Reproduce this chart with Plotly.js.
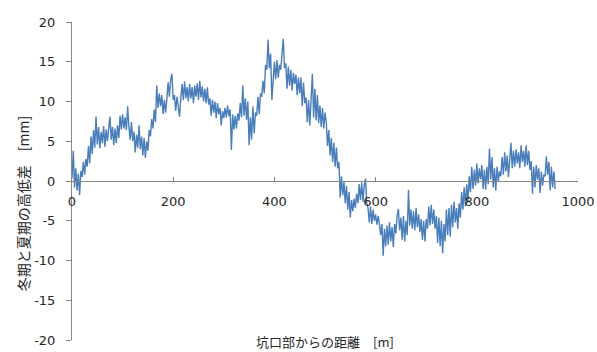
<!DOCTYPE html>
<html>
<head>
<meta charset="utf-8">
<script src="https://cdn.plot.ly/plotly-3.0.1.min.js"></script>
<style>
  html, body { margin: 0; padding: 0; background: #fff; }
  #chart { width: 597px; height: 352px; }
</style>
</head>
<body>
<div id="chart"></div>
<script>
// Survey stations: one reading every 2.5 m from the tunnel portal
const stationStart = 0;   // [m]
const stationStep = 2.5;  // [m]

// Winter minus summer elevation difference at each station [mm]
const heightDiff = [
  0.3, 3.8, -0.8, 1.6, -1.2, 0.9, -1.8, 1.3, 0.5, 2.4,
  0.8, 2.8, 1.8, 4.4, 2.2, 5.6, 3.4, 6.4, 4.2, 8.1,
  4.6, 6.8, 4.1, 6.2, 4.8, 6.9, 4.3, 6.5, 5.0, 7.2,
  8.1, 5.2, 6.8, 4.5, 6.6, 4.8, 7.0, 5.4, 8.2, 6.5,
  8.4, 6.6, 8.0, 6.4, 9.4, 6.8, 5.2, 7.4, 5.0, 6.2,
  3.6, 5.8, 4.2, 7.0, 4.0, 5.6, 3.2, 5.4, 2.9, 5.0,
  3.8, 6.4, 5.6, 7.8, 6.6, 9.0, 7.4, 12.0, 9.2, 11.0,
  9.4, 10.8, 8.4, 10.2, 8.6, 10.4, 12.4, 10.6, 12.8, 13.5,
  10.2, 10.8, 8.8, 10.6, 9.0, 8.1, 10.4, 12.2, 10.2, 12.5,
  10.4, 11.8, 10.0, 12.2, 10.4, 11.8, 9.8, 12.0, 10.6, 12.3,
  10.2, 12.6, 10.5, 11.9, 10.0, 11.6, 9.8, 11.8, 9.6, 10.4,
  8.2, 10.2, 8.6, 10.0, 7.9, 9.8, 8.4, 9.2, 7.0, 8.8,
  7.9, 9.2, 8.0, 9.5, 8.2, 9.0, 3.9, 8.4, 6.5, 8.2,
  6.6, 8.5, 7.6, 9.8, 8.0, 12.0, 8.2, 10.4, 7.7, 10.0,
  4.5, 8.0, 5.2, 9.4, 6.0, 8.6, 8.2, 10.6, 8.4, 11.0,
  10.6, 12.6, 11.0, 14.6, 14.0, 17.8, 14.2, 16.0, 10.2, 13.2,
  15.0, 12.8, 15.2, 13.0, 14.6, 14.0, 16.4, 17.9, 14.2, 14.8,
  11.6, 14.4, 12.0, 14.0, 11.4, 13.6, 12.2, 13.4, 10.8, 13.0,
  11.0, 13.0, 9.4, 12.4, 9.8, 10.5, 7.4, 10.2, 7.0, 9.6,
  13.5, 8.0, 11.6, 7.6, 10.8, 7.3, 9.5, 6.8, 9.2, 6.6,
  8.6, 7.4, 4.4, 6.4, 3.2, 5.4, 2.4, 4.8, 1.8, 4.2,
  1.6, 2.4, -2.1, 0.6, -1.8, -0.1, -2.8, -0.6, -3.6, -1.4,
  -4.6, -2.4, -3.8, -2.2, -3.4, -1.6, -2.8, -0.4, -2.4, -0.2,
  -2.6, -0.6, 0.3, -2.8, -3.4, -5.2, -3.2, -5.4, -3.6, -5.0,
  -4.2, -5.5, -4.4, -5.4, -6.8, -5.4, -9.4, -6.0, -8.2, -5.6,
  -8.0, -5.2, -7.6, -5.8, -8.3, -5.4, -6.6, -4.4, -3.5, -6.2,
  -4.6, -7.4, -4.4, -7.6, -5.0, -6.8, -1.1, -5.6, -3.6, -6.0,
  -3.8, -6.2, -3.4, -5.8, -4.2, -6.4, -4.8, -7.4, -5.0, -7.6,
  -4.8, -6.0, -3.2, -5.6, -3.0, -5.4, -3.6, -6.0, -4.4, -7.8,
  -4.6, -8.2, -5.0, -9.1, -5.4, -7.6, -3.6, -6.8, -3.4, -7.0,
  -3.0, -5.8, -2.6, -5.2, -3.4, -6.0, -2.8, -4.6, -1.4, -3.6,
  -0.8, -3.2, -0.4, -2.6, 0.6, -1.4, 1.8, -1.0, 1.4, -0.6,
  2.2, -0.3, 1.6, 0.2, 2.0, -1.0, 1.4, -1.1, 1.8, -0.4,
  4.1, 0.2, 3.0, -0.8, 1.6, -1.2, 1.8, 0.0, 1.2, 0.6,
  3.0, 0.8, 3.6, 1.2, 3.2, 0.5, 2.8, 4.8, 1.6, 3.8,
  1.8, 4.0, 2.2, 3.6, 1.6, 4.5, 2.4, 3.8, 1.8, 4.5,
  2.0, 3.8, 1.4, 2.5, -1.6, 1.8, -0.8, 2.0, 0.2, 1.6,
  -1.5, 1.2, -0.6, 0.8, 0.6, 3.1, 0.8, 2.4, -1.2, 1.8,
  -0.8, 1.2, -1.0
];

// Axis ticks (labels use a plain hyphen for negatives)
const yTickVals = [-20, -15, -10, -5, 0, 5, 10, 15, 20];
const yTickText = ['-20', '-15', '-10', '-5', '0', '5', '10', '15', '20'];
const xTickVals = [0, 200, 400, 600, 800, 1000];
const xTickText = ['0', '200', '400', '600', '800', '1000'];

const xTitle = '坑口部からの距離　[m]';
const yTitle = '冬期と夏期の高低差　[mm]';

const axisGrey = '#868686';
const textColor = '#262626';
const numFont = 'DejaVu Sans, Verdana, sans-serif';
const jpFont = 'Noto Sans CJK JP, sans-serif';

const trace = {
  type: 'scatter',
  mode: 'lines',
  x0: stationStart,
  dx: stationStep,
  y: heightDiff,
  line: { color: '#4a7ebb', width: 1.4 },
  hoverinfo: 'skip'
};

const layout = {
  width: 597,
  height: 352,
  margin: { l: 72, r: 19, t: 22, b: 12 },
  paper_bgcolor: '#ffffff',
  plot_bgcolor: '#ffffff',
  showlegend: false,
  font: { family: numFont, size: 13, color: textColor },
  xaxis: {
    range: [0, 1000],
    tickmode: 'array',
    tickvals: xTickVals,
    ticktext: xTickText,
    anchor: 'free',
    position: 0.5,
    showgrid: false,
    zeroline: false,
    showline: true,
    linecolor: axisGrey,
    linewidth: 1,
    ticks: 'inside',
    ticklen: 4,
    tickcolor: axisGrey,
    ticklabelstandoff: 8,
    tickfont: { family: numFont, size: 13, color: textColor }
  },
  yaxis: {
    range: [-20, 20],
    tickmode: 'array',
    tickvals: yTickVals,
    ticktext: yTickText,
    showgrid: false,
    zeroline: false,
    showline: true,
    linecolor: axisGrey,
    linewidth: 1,
    ticks: 'outside',
    ticklen: 5,
    tickcolor: axisGrey,
    ticklabelstandoff: 8,
    tickfont: { family: numFont, size: 13, color: textColor }
  },
  annotations: [
    {
      text: xTitle,
      xref: 'paper', yref: 'paper',
      x: 0.5, y: -0.006,
      xanchor: 'center', yanchor: 'middle',
      showarrow: false,
      font: { family: jpFont, size: 13, color: textColor }
    },
    {
      text: yTitle,
      xref: 'paper', yref: 'paper',
      x: -0.097, y: 0.43,
      xanchor: 'center', yanchor: 'middle',
      textangle: -90,
      showarrow: false,
      font: { family: jpFont, size: 14, color: textColor }
    }
  ]
};

Plotly.newPlot('chart', [trace], layout, { displayModeBar: false, staticPlot: true });
</script>
</body>
</html>
